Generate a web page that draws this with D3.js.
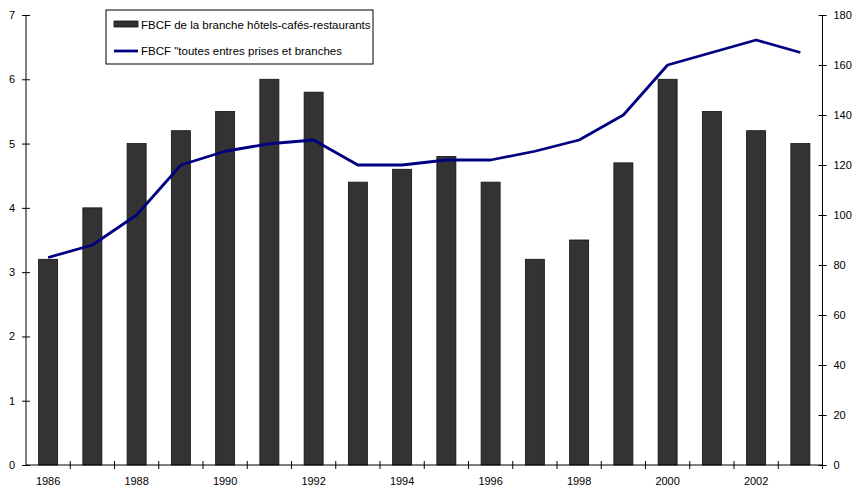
<!DOCTYPE html>
<html>
<head>
<meta charset="utf-8">
<script src="https://cdn.jsdelivr.net/npm/d3@7"></script>
<style>
  body { margin: 0; background: #fff; }
  svg text { font-family: "Liberation Sans", Arial, sans-serif; font-size: 11px; fill: #000; }
</style>
</head>
<body>
<div id="chart"></div>
<script>
const years = ["1986","1987","1988","1989","1990","1991","1992","1993","1994","1995","1996","1997","1998","1999","2000","2001","2002","2003"];
const hcrValues = [3.2, 4.0, 5.0, 5.2, 5.5, 6.0, 5.8, 4.4, 4.6, 4.8, 4.4, 3.2, 3.5, 4.7, 6.0, 5.5, 5.2, 5.0];
const allValues = [83, 88, 100, 120, 125.5, 128.5, 130, 120, 120, 122, 122, 125.5, 130, 140, 160, 165, 170, 165];
const leftTicks = [0, 1, 2, 3, 4, 5, 6, 7];
const rightTicks = [0, 20, 40, 60, 80, 100, 120, 140, 160, 180];
const yearLabels = ["1986","1988","1990","1992","1994","1996","1998","2000","2002"];
const seriesNames = ["FBCF de la branche hôtels-cafés-restaurants", "FBCF \"toutes entres prises et branches"];

const width = 854, height = 490;
const plotL = 26, plotR = 822.5, plotT = 15, plotB = 465;

const svg = d3.select("#chart").append("svg")
    .attr("width", width)
    .attr("height", height);

const x = d3.scaleBand().domain(years).range([plotL, plotR]).padding(0);
const yL = d3.scaleLinear().domain([0, 7]).range([plotB, plotT]);
const yR = d3.scaleLinear().domain([0, 180]).range([plotB, plotT]);

const barW = x.bandwidth() * 0.43;

// bars
svg.append("g").selectAll("rect")
    .data(years)
    .enter().append("rect")
    .attr("x", (d, i) => x(d) + x.bandwidth() / 2 - barW / 2)
    .attr("y", (d, i) => yL(hcrValues[i]))
    .attr("width", barW)
    .attr("height", (d, i) => yL(0) - yL(hcrValues[i]))
    .attr("fill", "#333333")
    .attr("stroke", "#111")
    .attr("stroke-width", 0.8);

// line
const line = d3.line()
    .x((d, i) => x(years[i]) + x.bandwidth() / 2)
    .y(d => yR(d));

svg.append("path")
    .datum(allValues)
    .attr("d", line)
    .attr("fill", "none")
    .attr("stroke", "#000080")
    .attr("stroke-width", 2.8)
    .attr("stroke-linejoin", "round");

// left axis
const axL = svg.append("g")
    .attr("transform", `translate(${plotL},0)`)
    .call(d3.axisLeft(yL).tickValues(leftTicks).tickSize(4).tickPadding(7).tickFormat(d3.format("d")));
axL.selectAll(".tick line").attr("x2", 4).attr("x1", -4);
axL.select(".domain").attr("d", `M0,${plotT}V${plotB}`);

// right axis
const axR = svg.append("g")
    .attr("transform", `translate(${plotR},0)`)
    .call(d3.axisRight(yR).tickValues(rightTicks).tickSize(4).tickPadding(7).tickFormat(d3.format("d")));
axR.selectAll(".tick line").attr("x1", -4).attr("x2", 4);
axR.select(".domain").attr("d", `M0,${plotT}V${plotB}`);

// bottom axis
const gx = svg.append("g").attr("transform", `translate(0,${plotB})`);
gx.append("line")
    .attr("x1", plotL).attr("x2", plotR)
    .attr("stroke", "#000");
const bounds = years.map(d => x(d)).concat([plotR]);
gx.selectAll(".bt")
    .data(bounds.slice(1))
    .enter().append("line")
    .attr("x1", d => d).attr("x2", d => d)
    .attr("y1", -4).attr("y2", 4)
    .attr("stroke", "#000");
gx.selectAll(".yl")
    .data(yearLabels)
    .enter().append("text")
    .attr("x", d => x(d) + x.bandwidth() / 2)
    .attr("y", 20)
    .attr("text-anchor", "middle")
    .text(d => d);

svg.selectAll(".domain, .tick line").attr("stroke", "#000");
svg.selectAll(".tick text").style("font-size", "11px");

// legend
const lg = svg.append("g");
lg.append("rect")
    .attr("x", 106).attr("y", 10)
    .attr("width", 267).attr("height", 54)
    .attr("fill", "#fff").attr("stroke", "#000").attr("stroke-width", 1);
lg.append("rect")
    .attr("x", 114).attr("y", 21)
    .attr("width", 24).attr("height", 6)
    .attr("fill", "#333333").attr("stroke", "#111").attr("stroke-width", 0.8);
lg.append("text").attr("x", 141).attr("y", 28.5).style("font-size", "11.5px").text(seriesNames[0]);
lg.append("line")
    .attr("x1", 114).attr("x2", 138)
    .attr("y1", 51).attr("y2", 51)
    .attr("stroke", "#000080").attr("stroke-width", 2.8);
lg.append("text").attr("x", 141).attr("y", 55).style("font-size", "11.5px").text(seriesNames[1]);
</script>
</body>
</html>
